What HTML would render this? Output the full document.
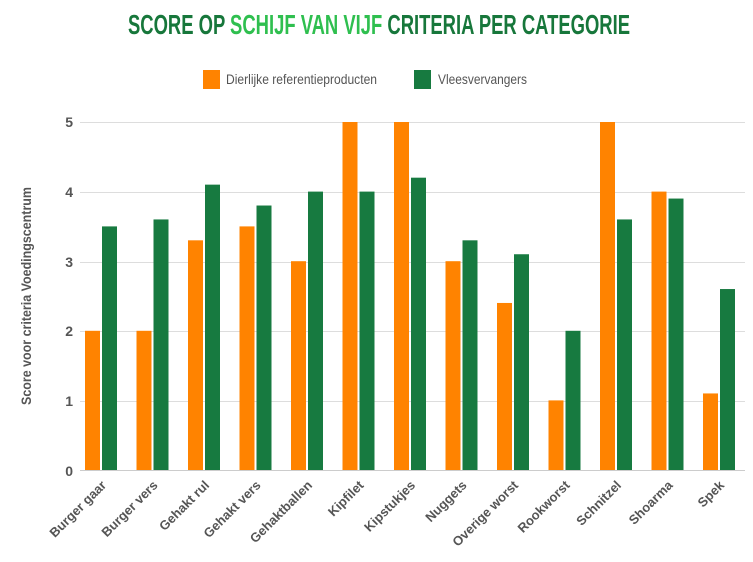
<!DOCTYPE html>
<html><head><meta charset="utf-8"><style>
html,body{margin:0;padding:0;background:#fff;}
svg{display:block;font-family:"Liberation Sans Narrow","Liberation Sans",sans-serif;}
</style></head><body>
<svg width="753" height="562" viewBox="0 0 753 562" xmlns="http://www.w3.org/2000/svg">
<text x="128" y="34" font-size="28" font-weight="bold" textLength="502" lengthAdjust="spacingAndGlyphs" fill="#17773b">SCORE OP <tspan fill="#2fbf4f">SCHIJF VAN VIJF</tspan> CRITERIA PER CATEGORIE</text>
<rect x="203" y="70" width="17" height="19" fill="#ff8300"/>
<text x="226" y="84" font-size="14" fill="#555" textLength="151" lengthAdjust="spacingAndGlyphs">Dierlijke referentieproducten</text>
<rect x="414" y="70" width="17" height="19" fill="#177a40"/>
<text x="438" y="84" font-size="14" fill="#555" textLength="89" lengthAdjust="spacingAndGlyphs">Vleesvervangers</text>
<g stroke="#ddd" stroke-width="1">
<line x1="80" x2="745" y1="122.5" y2="122.5"/><line x1="80" x2="745" y1="192.5" y2="192.5"/>
<line x1="80" x2="745" y1="262.5" y2="262.5"/><line x1="80" x2="745" y1="331.5" y2="331.5"/>
<line x1="80" x2="745" y1="401.5" y2="401.5"/>
</g>
<g font-size="14" font-weight="bold" fill="#555" text-anchor="end">
<text x="73" y="127">5</text><text x="73" y="197">4</text><text x="73" y="267">3</text>
<text x="73" y="336">2</text><text x="73" y="406">1</text><text x="73" y="476">0</text>
</g>
<text transform="translate(31,296) rotate(-90)" font-size="14" font-weight="bold" fill="#555" text-anchor="middle" textLength="218" lengthAdjust="spacingAndGlyphs">Score voor criteria Voedingscentrum</text>
<g id="bars"></g>
<line x1="80" x2="745" y1="470.5" y2="470.5" stroke="#ccc"/>
<g id="labels" font-size="13" font-weight="bold" fill="#555" text-anchor="end"></g>
</svg>
<script>
var o=[2,2,3.3,3.5,3,5,5,3,2.4,1,5,4,1.1],g=[3.5,3.6,4.1,3.8,4,4,4.2,3.3,3.1,2,3.6,3.9,2.6];
var n=["Burger gaar","Burger vers","Gehakt rul","Gehakt vers","Gehaktballen","Kipfilet","Kipstukjes","Nuggets","Overige worst","Rookworst","Schnitzel","Shoarma","Spek"];
var ns="http://www.w3.org/2000/svg",b=document.getElementById("bars"),l=document.getElementById("labels");
for(var i=0;i<13;i++){var x=85+i*51.5;
[[o[i],"#ff8300",x],[g[i],"#177a40",x+17]].forEach(function(d){var r=document.createElementNS(ns,"rect");var h=d[0]*69.6;
r.setAttribute("x",d[2]);r.setAttribute("y",470-h);r.setAttribute("width",15);r.setAttribute("height",h);r.setAttribute("fill",d[1]);b.appendChild(r);});
var t=document.createElementNS(ns,"text");t.setAttribute("transform","translate("+(x+22)+",486) rotate(-45)");t.textContent=n[i];l.appendChild(t);}
</script>
</body></html>
